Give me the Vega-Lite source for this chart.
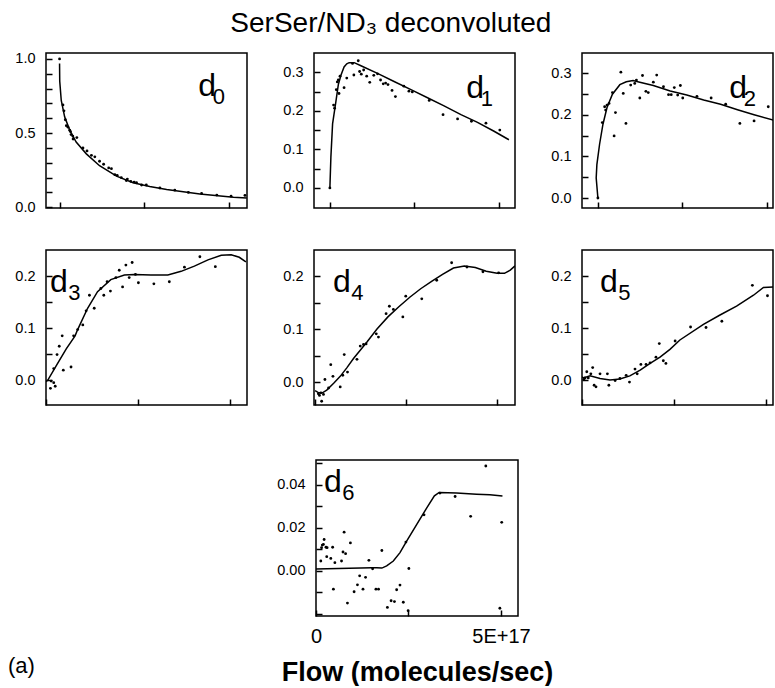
{
  "$schema": "https://vega.github.io/schema/vega-lite/v6.json",
  "background": "white",
  "padding": {"left": 8, "top": 10, "right": 0, "bottom": 0},
  "title": {"text": "SerSer/ND₃ deconvoluted", "fontSize": 28, "font": "Liberation Sans", "fontWeight": "normal", "anchor": "middle", "offset": 12, "color": "black"},
  "datasets": {
    "pts": [
      {"panel":"d0","flow":0,"value":1.0},{"panel":"d0","flow":0.1e17,"value":0.69},{"panel":"d0","flow":0.13e17,"value":0.65},{"panel":"d0","flow":0.17e17,"value":0.59},{"panel":"d0","flow":0.2e17,"value":0.55},{"panel":"d0","flow":0.25e17,"value":0.54},{"panel":"d0","flow":0.3e17,"value":0.52},{"panel":"d0","flow":0.32e17,"value":0.51},{"panel":"d0","flow":0.34e17,"value":0.49},{"panel":"d0","flow":0.39e17,"value":0.48},{"panel":"d0","flow":0.4e17,"value":0.46},{"panel":"d0","flow":0.51e17,"value":0.47},{"panel":"d0","flow":0.69e17,"value":0.40},{"panel":"d0","flow":0.81e17,"value":0.38},{"panel":"d0","flow":0.94e17,"value":0.35},{"panel":"d0","flow":1.04e17,"value":0.34},{"panel":"d0","flow":1.18e17,"value":0.31},{"panel":"d0","flow":1.3e17,"value":0.29},{"panel":"d0","flow":1.45e17,"value":0.265},{"panel":"d0","flow":1.53e17,"value":0.26},{"panel":"d0","flow":1.63e17,"value":0.22},{"panel":"d0","flow":1.7e17,"value":0.215},{"panel":"d0","flow":1.82e17,"value":0.20},{"panel":"d0","flow":1.97e17,"value":0.18},{"panel":"d0","flow":2.0e17,"value":0.19},{"panel":"d0","flow":2.1e17,"value":0.175},{"panel":"d0","flow":2.2e17,"value":0.17},{"panel":"d0","flow":2.27e17,"value":0.165},{"panel":"d0","flow":2.42e17,"value":0.15},{"panel":"d0","flow":2.56e17,"value":0.15},{"panel":"d0","flow":2.96e17,"value":0.13},{"panel":"d0","flow":3.4e17,"value":0.115},{"panel":"d0","flow":3.8e17,"value":0.10},{"panel":"d0","flow":4.19e17,"value":0.093},{"panel":"d0","flow":4.64e17,"value":0.082},{"panel":"d0","flow":5.06e17,"value":0.075},{"panel":"d0","flow":5.47e17,"value":0.08},
      {"panel":"d1","flow":0,"value":0.0},{"panel":"d1","flow":0.11e17,"value":0.215},{"panel":"d1","flow":0.14e17,"value":0.207},{"panel":"d1","flow":0.19e17,"value":0.255},{"panel":"d1","flow":0.22e17,"value":0.275},{"panel":"d1","flow":0.25e17,"value":0.28},{"panel":"d1","flow":0.27e17,"value":0.245},{"panel":"d1","flow":0.3e17,"value":0.29},{"panel":"d1","flow":0.42e17,"value":0.26},{"panel":"d1","flow":0.5e17,"value":0.285},{"panel":"d1","flow":0.67e17,"value":0.323},{"panel":"d1","flow":0.71e17,"value":0.293},{"panel":"d1","flow":0.84e17,"value":0.33},{"panel":"d1","flow":0.88e17,"value":0.302},{"panel":"d1","flow":0.93e17,"value":0.295},{"panel":"d1","flow":1.0e17,"value":0.306},{"panel":"d1","flow":1.09e17,"value":0.29},{"panel":"d1","flow":1.18e17,"value":0.274},{"panel":"d1","flow":1.3e17,"value":0.292},{"panel":"d1","flow":1.41e17,"value":0.296},{"panel":"d1","flow":1.5e17,"value":0.28},{"panel":"d1","flow":1.58e17,"value":0.27},{"panel":"d1","flow":1.65e17,"value":0.272},{"panel":"d1","flow":1.72e17,"value":0.268},{"panel":"d1","flow":1.84e17,"value":0.253},{"panel":"d1","flow":1.94e17,"value":0.237},{"panel":"d1","flow":2.19e17,"value":0.264},{"panel":"d1","flow":2.34e17,"value":0.251},{"panel":"d1","flow":2.44e17,"value":0.249},{"panel":"d1","flow":2.94e17,"value":0.227},{"panel":"d1","flow":3.35e17,"value":0.19},{"panel":"d1","flow":3.78e17,"value":0.179},{"panel":"d1","flow":4.19e17,"value":0.173},{"panel":"d1","flow":4.62e17,"value":0.168},{"panel":"d1","flow":5.03e17,"value":0.15},
      {"panel":"d2","flow":0,"value":0.0},{"panel":"d2","flow":0.13e17,"value":0.181},{"panel":"d2","flow":0.2e17,"value":0.219},{"panel":"d2","flow":0.23e17,"value":0.211},{"panel":"d2","flow":0.27e17,"value":0.223},{"panel":"d2","flow":0.33e17,"value":0.227},{"panel":"d2","flow":0.43e17,"value":0.253},{"panel":"d2","flow":0.48e17,"value":0.149},{"panel":"d2","flow":0.52e17,"value":0.205},{"panel":"d2","flow":0.68e17,"value":0.302},{"panel":"d2","flow":0.75e17,"value":0.251},{"panel":"d2","flow":0.83e17,"value":0.179},{"panel":"d2","flow":0.97e17,"value":0.271},{"panel":"d2","flow":1.09e17,"value":0.275},{"panel":"d2","flow":1.14e17,"value":0.283},{"panel":"d2","flow":1.24e17,"value":0.24},{"panel":"d2","flow":1.32e17,"value":0.294},{"panel":"d2","flow":1.42e17,"value":0.256},{"panel":"d2","flow":1.49e17,"value":0.253},{"panel":"d2","flow":1.64e17,"value":0.278},{"panel":"d2","flow":1.74e17,"value":0.295},{"panel":"d2","flow":1.94e17,"value":0.267},{"panel":"d2","flow":2.09e17,"value":0.248},{"panel":"d2","flow":2.17e17,"value":0.248},{"panel":"d2","flow":2.26e17,"value":0.265},{"panel":"d2","flow":2.36e17,"value":0.247},{"panel":"d2","flow":2.44e17,"value":0.27},{"panel":"d2","flow":2.51e17,"value":0.24},{"panel":"d2","flow":2.93e17,"value":0.244},{"panel":"d2","flow":3.35e17,"value":0.24},{"panel":"d2","flow":3.78e17,"value":0.225},{"panel":"d2","flow":4.2e17,"value":0.179},{"panel":"d2","flow":4.62e17,"value":0.185},{"panel":"d2","flow":5.04e17,"value":0.219},
      {"panel":"d3","flow":0.12e17,"value":-0.016},{"panel":"d3","flow":0.14e17,"value":-0.002},{"panel":"d3","flow":0.21e17,"value":-0.005},{"panel":"d3","flow":0.25e17,"value":-0.012},{"panel":"d3","flow":0.21e17,"value":0.022},{"panel":"d3","flow":0.3e17,"value":0.049},{"panel":"d3","flow":0.36e17,"value":0.065},{"panel":"d3","flow":0.44e17,"value":0.085},{"panel":"d3","flow":0.47e17,"value":0.019},{"panel":"d3","flow":0.68e17,"value":0.025},{"panel":"d3","flow":0.75e17,"value":0.085},{"panel":"d3","flow":0.86e17,"value":0.097},{"panel":"d3","flow":1.0e17,"value":0.106},{"panel":"d3","flow":1.09e17,"value":0.133},{"panel":"d3","flow":1.18e17,"value":0.163},{"panel":"d3","flow":1.31e17,"value":0.138},{"panel":"d3","flow":1.49e17,"value":0.176},{"panel":"d3","flow":1.57e17,"value":0.163},{"panel":"d3","flow":1.66e17,"value":0.189},{"panel":"d3","flow":1.75e17,"value":0.171},{"panel":"d3","flow":1.9e17,"value":0.197},{"panel":"d3","flow":1.99e17,"value":0.211},{"panel":"d3","flow":2.08e17,"value":0.179},{"panel":"d3","flow":2.17e17,"value":0.221},{"panel":"d3","flow":2.26e17,"value":0.197},{"panel":"d3","flow":2.34e17,"value":0.226},{"panel":"d3","flow":2.43e17,"value":0.203},{"panel":"d3","flow":2.51e17,"value":0.187},{"panel":"d3","flow":2.93e17,"value":0.185},{"panel":"d3","flow":3.35e17,"value":0.189},{"panel":"d3","flow":3.76e17,"value":0.217},{"panel":"d3","flow":4.18e17,"value":0.237},{"panel":"d3","flow":4.6e17,"value":0.218},
      {"panel":"d4","flow":0.09e17,"value":-0.022},{"panel":"d4","flow":0.12e17,"value":-0.025},{"panel":"d4","flow":0.16e17,"value":-0.02},{"panel":"d4","flow":0.18e17,"value":-0.036},{"panel":"d4","flow":0.23e17,"value":-0.023},{"panel":"d4","flow":0.27e17,"value":0.005},{"panel":"d4","flow":0.37e17,"value":-0.011},{"panel":"d4","flow":0.43e17,"value":0.033},{"panel":"d4","flow":0.49e17,"value":0.011},{"panel":"d4","flow":0.69e17,"value":-0.009},{"panel":"d4","flow":0.76e17,"value":0.013},{"panel":"d4","flow":0.8e17,"value":0.052},{"panel":"d4","flow":0.89e17,"value":0.019},{"panel":"d4","flow":1.15e17,"value":0.043},{"panel":"d4","flow":1.24e17,"value":0.068},{"panel":"d4","flow":1.33e17,"value":0.071},{"panel":"d4","flow":1.4e17,"value":0.072},{"panel":"d4","flow":1.68e17,"value":0.091},{"panel":"d4","flow":1.74e17,"value":0.085},{"panel":"d4","flow":1.95e17,"value":0.129},{"panel":"d4","flow":2.04e17,"value":0.143},{"panel":"d4","flow":2.15e17,"value":0.137},{"panel":"d4","flow":2.41e17,"value":0.123},{"panel":"d4","flow":2.49e17,"value":0.162},{"panel":"d4","flow":2.93e17,"value":0.157},{"panel":"d4","flow":3.34e17,"value":0.192},{"panel":"d4","flow":3.75e17,"value":0.225},{"panel":"d4","flow":4.17e17,"value":0.217},{"panel":"d4","flow":4.61e17,"value":0.208},{"panel":"d4","flow":5.04e17,"value":0.206},
      {"panel":"d5","flow":0.05e17,"value":0.001},{"panel":"d5","flow":0.08e17,"value":0.004},{"panel":"d5","flow":0.13e17,"value":0.016},{"panel":"d5","flow":0.17e17,"value":0.004},{"panel":"d5","flow":0.24e17,"value":0.012},{"panel":"d5","flow":0.29e17,"value":0.024},{"panel":"d5","flow":0.33e17,"value":-0.01},{"panel":"d5","flow":0.38e17,"value":-0.013},{"panel":"d5","flow":0.49e17,"value":0.012},{"panel":"d5","flow":0.69e17,"value":0.012},{"panel":"d5","flow":0.73e17,"value":-0.01},{"panel":"d5","flow":0.9e17,"value":-0.001},{"panel":"d5","flow":1.03e17,"value":0.003},{"panel":"d5","flow":1.2e17,"value":0.009},{"panel":"d5","flow":1.29e17,"value":-0.004},{"panel":"d5","flow":1.44e17,"value":0.021},{"panel":"d5","flow":1.5e17,"value":0.012},{"panel":"d5","flow":1.6e17,"value":0.03},{"panel":"d5","flow":1.74e17,"value":0.03},{"panel":"d5","flow":1.85e17,"value":0.033},{"panel":"d5","flow":2.01e17,"value":0.044},{"panel":"d5","flow":2.1e17,"value":0.07},{"panel":"d5","flow":2.21e17,"value":0.037},{"panel":"d5","flow":2.28e17,"value":0.032},{"panel":"d5","flow":2.53e17,"value":0.075},{"panel":"d5","flow":2.95e17,"value":0.102},{"panel":"d5","flow":3.37e17,"value":0.101},{"panel":"d5","flow":3.8e17,"value":0.113},{"panel":"d5","flow":4.63e17,"value":0.182},{"panel":"d5","flow":5.04e17,"value":0.162},
      {"panel":"d6","flow":0.13e17,"value":0.0046},{"panel":"d6","flow":0.15e17,"value":0.0108},{"panel":"d6","flow":0.17e17,"value":0.012},{"panel":"d6","flow":0.2e17,"value":0.0123},{"panel":"d6","flow":0.22e17,"value":0.0146},{"panel":"d6","flow":0.27e17,"value":0.011},{"panel":"d6","flow":0.29e17,"value":0.0066},{"panel":"d6","flow":0.3e17,"value":0.0108},{"panel":"d6","flow":0.4e17,"value":0.0058},{"panel":"d6","flow":0.45e17,"value":0.011},{"panel":"d6","flow":0.47e17,"value":-0.0085},{"panel":"d6","flow":0.51e17,"value":0.0038},{"panel":"d6","flow":0.69e17,"value":0.0046},{"panel":"d6","flow":0.73e17,"value":0.0088},{"panel":"d6","flow":0.76e17,"value":0.018},{"panel":"d6","flow":0.8e17,"value":0.008},{"panel":"d6","flow":0.85e17,"value":-0.015},{"panel":"d6","flow":0.93e17,"value":0.013},{"panel":"d6","flow":1.03e17,"value":-0.0097},{"panel":"d6","flow":1.12e17,"value":-0.0065},{"panel":"d6","flow":1.18e17,"value":-0.0023},{"panel":"d6","flow":1.27e17,"value":-0.0085},{"panel":"d6","flow":1.34e17,"value":-0.003},{"panel":"d6","flow":1.43e17,"value":0.0049},{"panel":"d6","flow":1.53e17,"value":0.001},{"panel":"d6","flow":1.62e17,"value":-0.0085},{"panel":"d6","flow":1.69e17,"value":-0.0085},{"panel":"d6","flow":1.78e17,"value":0.0095},{"panel":"d6","flow":1.93e17,"value":-0.017},{"panel":"d6","flow":2.03e17,"value":-0.0139},{"panel":"d6","flow":2.12e17,"value":-0.0143},{"panel":"d6","flow":2.18e17,"value":-0.0088},{"panel":"d6","flow":2.27e17,"value":-0.0066},{"panel":"d6","flow":2.36e17,"value":-0.0146},{"panel":"d6","flow":2.43e17,"value":0.0134},{"panel":"d6","flow":2.49e17,"value":-0.0185},{"panel":"d6","flow":2.51e17,"value":0.0011},{"panel":"d6","flow":2.92e17,"value":0.0261},{"panel":"d6","flow":3.35e17,"value":0.0362},{"panel":"d6","flow":3.76e17,"value":0.0346},{"panel":"d6","flow":4.18e17,"value":0.0254},{"panel":"d6","flow":4.59e17,"value":0.0488},{"panel":"d6","flow":5.02e17,"value":0.0226},{"panel":"d6","flow":4.97e17,"value":-0.0174}
    ],
    "fit": [
      {"panel":"d0","flow":0,"value":0.97},{"panel":"d0","flow":0.005e17,"value":0.85},{"panel":"d0","flow":0.05e17,"value":0.72},{"panel":"d0","flow":0.15e17,"value":0.61},{"panel":"d0","flow":0.3e17,"value":0.52},{"panel":"d0","flow":0.49e17,"value":0.44},{"panel":"d0","flow":0.79e17,"value":0.36},{"panel":"d0","flow":1.18e17,"value":0.28},{"panel":"d0","flow":1.68e17,"value":0.21},{"panel":"d0","flow":2.17e17,"value":0.165},{"panel":"d0","flow":2.66e17,"value":0.14},{"panel":"d0","flow":3.16e17,"value":0.12},{"panel":"d0","flow":4.14e17,"value":0.09},{"panel":"d0","flow":5.13e17,"value":0.068},{"panel":"d0","flow":5.52e17,"value":0.063},
      {"panel":"d1","flow":0,"value":0.0},{"panel":"d1","flow":0.03e17,"value":0.08},{"panel":"d1","flow":0.08e17,"value":0.166},{"panel":"d1","flow":0.18e17,"value":0.225},{"panel":"d1","flow":0.25e17,"value":0.268},{"panel":"d1","flow":0.33e17,"value":0.293},{"panel":"d1","flow":0.42e17,"value":0.314},{"panel":"d1","flow":0.5e17,"value":0.322},{"panel":"d1","flow":0.57e17,"value":0.325},{"panel":"d1","flow":0.72e17,"value":0.325},{"panel":"d1","flow":0.92e17,"value":0.317},{"panel":"d1","flow":1.41e17,"value":0.297},{"panel":"d1","flow":1.9e17,"value":0.276},{"panel":"d1","flow":2.4e17,"value":0.255},{"panel":"d1","flow":2.89e17,"value":0.234},{"panel":"d1","flow":3.38e17,"value":0.213},{"panel":"d1","flow":3.88e17,"value":0.19},{"panel":"d1","flow":4.37e17,"value":0.17},{"panel":"d1","flow":4.86e17,"value":0.147},{"panel":"d1","flow":5.3e17,"value":0.125},
      {"panel":"d2","flow":0,"value":0.0},{"panel":"d2","flow":-0.05e17,"value":0.048},{"panel":"d2","flow":-0.03e17,"value":0.08},{"panel":"d2","flow":0.05e17,"value":0.129},{"panel":"d2","flow":0.15e17,"value":0.177},{"panel":"d2","flow":0.27e17,"value":0.217},{"panel":"d2","flow":0.43e17,"value":0.249},{"panel":"d2","flow":0.65e17,"value":0.272},{"panel":"d2","flow":0.84e17,"value":0.279},{"panel":"d2","flow":1.04e17,"value":0.282},{"panel":"d2","flow":1.24e17,"value":0.278},{"panel":"d2","flow":1.64e17,"value":0.27},{"panel":"d2","flow":2.14e17,"value":0.257},{"panel":"d2","flow":2.63e17,"value":0.247},{"panel":"d2","flow":3.13e17,"value":0.235},{"panel":"d2","flow":3.63e17,"value":0.225},{"panel":"d2","flow":4.13e17,"value":0.212},{"panel":"d2","flow":4.62e17,"value":0.2},{"panel":"d2","flow":5.27e17,"value":0.185},
      {"panel":"d3","flow":0,"value":-0.003},{"panel":"d3","flow":0.05e17,"value":0.0},{"panel":"d3","flow":0.3e17,"value":0.03},{"panel":"d3","flow":0.55e17,"value":0.06},{"panel":"d3","flow":0.79e17,"value":0.085},{"panel":"d3","flow":0.86e17,"value":0.097},{"panel":"d3","flow":1.13e17,"value":0.138},{"panel":"d3","flow":1.4e17,"value":0.17},{"panel":"d3","flow":1.76e17,"value":0.193},{"panel":"d3","flow":2.13e17,"value":0.202},{"panel":"d3","flow":2.4e17,"value":0.203},{"panel":"d3","flow":2.85e17,"value":0.202},{"panel":"d3","flow":3.31e17,"value":0.202},{"panel":"d3","flow":3.67e17,"value":0.209},{"panel":"d3","flow":4.03e17,"value":0.219},{"panel":"d3","flow":4.4e17,"value":0.231},{"panel":"d3","flow":4.76e17,"value":0.24},{"panel":"d3","flow":5.03e17,"value":0.241},{"panel":"d3","flow":5.25e17,"value":0.236},{"panel":"d3","flow":5.43e17,"value":0.227},
      {"panel":"d4","flow":0,"value":-0.016},{"panel":"d4","flow":0.1e17,"value":-0.02},{"panel":"d4","flow":0.2e17,"value":-0.02},{"panel":"d4","flow":0.32e17,"value":-0.015},{"panel":"d4","flow":0.51e17,"value":-0.002},{"panel":"d4","flow":0.69e17,"value":0.011},{"panel":"d4","flow":0.87e17,"value":0.027},{"panel":"d4","flow":1.06e17,"value":0.045},{"panel":"d4","flow":1.24e17,"value":0.06},{"panel":"d4","flow":1.43e17,"value":0.076},{"panel":"d4","flow":1.7e17,"value":0.1},{"panel":"d4","flow":2.0e17,"value":0.123},{"panel":"d4","flow":2.3e17,"value":0.142},{"panel":"d4","flow":2.6e17,"value":0.16},{"panel":"d4","flow":2.9e17,"value":0.176},{"panel":"d4","flow":3.2e17,"value":0.19},{"panel":"d4","flow":3.5e17,"value":0.203},{"panel":"d4","flow":3.8e17,"value":0.215},{"panel":"d4","flow":4.1e17,"value":0.219},{"panel":"d4","flow":4.4e17,"value":0.216},{"panel":"d4","flow":4.7e17,"value":0.209},{"panel":"d4","flow":5.0e17,"value":0.205},{"panel":"d4","flow":5.2e17,"value":0.205},{"panel":"d4","flow":5.36e17,"value":0.211},{"panel":"d4","flow":5.49e17,"value":0.219},
      {"panel":"d5","flow":0,"value":0.006},{"panel":"d5","flow":0.04e17,"value":0.004},{"panel":"d5","flow":0.22e17,"value":0.008},{"panel":"d5","flow":0.49e17,"value":0.003},{"panel":"d5","flow":0.76e17,"value":0.0},{"panel":"d5","flow":1.03e17,"value":0.002},{"panel":"d5","flow":1.3e17,"value":0.008},{"panel":"d5","flow":1.58e17,"value":0.019},{"panel":"d5","flow":1.85e17,"value":0.032},{"panel":"d5","flow":2.12e17,"value":0.044},{"panel":"d5","flow":2.39e17,"value":0.059},{"panel":"d5","flow":2.66e17,"value":0.077},{"panel":"d5","flow":3.3e17,"value":0.107},{"panel":"d5","flow":3.75e17,"value":0.125},{"panel":"d5","flow":4.2e17,"value":0.142},{"panel":"d5","flow":4.66e17,"value":0.163},{"panel":"d5","flow":4.93e17,"value":0.178},{"panel":"d5","flow":5.2e17,"value":0.179},{"panel":"d5","flow":5.45e17,"value":0.175},
      {"panel":"d6","flow":0,"value":0.0009},{"panel":"d6","flow":1.51e17,"value":0.0015},{"panel":"d6","flow":1.64e17,"value":0.0015},{"panel":"d6","flow":1.78e17,"value":0.0013},{"panel":"d6","flow":1.91e17,"value":0.0023},{"panel":"d6","flow":2.09e17,"value":0.0046},{"panel":"d6","flow":2.27e17,"value":0.0085},{"panel":"d6","flow":2.45e17,"value":0.0138},{"panel":"d6","flow":2.72e17,"value":0.0215},{"panel":"d6","flow":2.99e17,"value":0.0292},{"panel":"d6","flow":3.2e17,"value":0.0349},{"panel":"d6","flow":3.33e17,"value":0.0365},{"panel":"d6","flow":3.8e17,"value":0.0362},{"panel":"d6","flow":4.34e17,"value":0.0357},{"panel":"d6","flow":4.7e17,"value":0.0354},{"panel":"d6","flow":5.04e17,"value":0.0349}
    ]
  },
  "vconcat": [
    {
      "columns": 3,
      "bounds": "flush",
      "spacing": {"row": 42, "column": 67},
      "concat": [
        {
          "width": 201, "height": 155,
          "title": {"text": "d\u00a0\u200b", "subtitle": "0", "anchor": "end", "frame": "group", "offset": -58, "dx": -22, "fontSize": 32, "subtitleFontSize": 22, "subtitlePadding": -15.6},
          "encoding": {
            "x": {"field": "flow", "type": "quantitative", "scale": {"domain": [-0.4e17, 5.53e17], "nice": false, "zero": false}, "axis": {"values": [0, 2.5e17, 5e17], "labels": false, "title": null}},
            "y": {"field": "value", "type": "quantitative", "scale": {"domain": [-0.005, 1.04], "nice": false, "zero": false}, "axis": {"values": [0,0.1,0.2,0.3,0.4,0.5,0.6,0.7,0.8,0.9,1.0], "labelExpr": "abs(datum.value*2 - round(datum.value*2)) < 0.001 ? format(datum.value, '.1f') : ''", "title": null}}
          },
          "layer": [
            {"data": {"name": "pts"}, "transform": [{"filter": "datum.panel == 'd0'"}], "mark": {"type": "circle", "size": 8, "color": "black", "opacity": 1, "clip": true}},
            {"data": {"name": "fit"}, "transform": [{"filter": "datum.panel == 'd0'"}], "mark": {"type": "line", "color": "black", "strokeWidth": 1.5, "clip": true}, "encoding": {"order": {"value": null}}}
          ]
        },
        {
          "width": 201, "height": 155,
          "title": {"text": "d\u00a0\u200b", "subtitle": "1", "anchor": "end", "frame": "group", "offset": -58, "dx": -22, "fontSize": 32, "subtitleFontSize": 22, "subtitlePadding": -15.6},
          "encoding": {
            "x": {"field": "flow", "type": "quantitative", "scale": {"domain": [-0.47e17, 5.48e17], "nice": false, "zero": false}, "axis": {"values": [0, 2.5e17, 5e17], "labels": false, "title": null}},
            "y": {"field": "value", "type": "quantitative", "scale": {"domain": [-0.052, 0.35], "nice": false, "zero": false}, "axis": {"values": [0,0.05,0.1,0.15,0.2,0.25,0.3], "labelExpr": "abs(datum.value*10 - round(datum.value*10)) < 0.001 ? format(datum.value, '.1f') : ''", "title": null}}
          },
          "layer": [
            {"data": {"name": "pts"}, "transform": [{"filter": "datum.panel == 'd1'"}], "mark": {"type": "circle", "size": 8, "color": "black", "opacity": 1, "clip": true}},
            {"data": {"name": "fit"}, "transform": [{"filter": "datum.panel == 'd1'"}], "mark": {"type": "line", "color": "black", "strokeWidth": 1.5, "clip": true}, "encoding": {"order": {"value": null}}}
          ]
        },
        {
          "width": 191, "height": 155,
          "title": {"text": "d\u00a0\u200b", "subtitle": "2", "anchor": "end", "frame": "group", "offset": -58, "dx": -17, "fontSize": 32, "subtitleFontSize": 22, "subtitlePadding": -15.6},
          "encoding": {
            "x": {"field": "flow", "type": "quantitative", "scale": {"domain": [-0.47e17, 5.18e17], "nice": false, "zero": false}, "axis": {"values": [0, 2.5e17, 5e17], "labels": false, "title": null}},
            "y": {"field": "value", "type": "quantitative", "scale": {"domain": [-0.024, 0.348], "nice": false, "zero": false}, "axis": {"values": [0,0.05,0.1,0.15,0.2,0.25,0.3], "labelExpr": "abs(datum.value*10 - round(datum.value*10)) < 0.001 ? format(datum.value, '.1f') : ''", "title": null}}
          },
          "layer": [
            {"data": {"name": "pts"}, "transform": [{"filter": "datum.panel == 'd2'"}], "mark": {"type": "circle", "size": 8, "color": "black", "opacity": 1, "clip": true}},
            {"data": {"name": "fit"}, "transform": [{"filter": "datum.panel == 'd2'"}], "mark": {"type": "line", "color": "black", "strokeWidth": 1.5, "clip": true}, "encoding": {"order": {"value": null}}}
          ]
        },
        {
          "width": 201, "height": 155,
          "title": {"text": "d", "subtitle": "\u200b\u00a0\u00a0\u00a03", "anchor": "start", "frame": "group", "offset": -55, "dx": 4, "fontSize": 32, "subtitleFontSize": 22, "subtitlePadding": -15.6},
          "encoding": {
            "x": {"field": "flow", "type": "quantitative", "scale": {"domain": [0, 5.46e17], "nice": false, "zero": false}, "axis": {"values": [0, 2.5e17, 5e17], "labels": false, "title": null}},
            "y": {"field": "value", "type": "quantitative", "scale": {"domain": [-0.048, 0.25], "nice": false, "zero": false}, "axis": {"values": [0,0.05,0.1,0.15,0.2], "labelExpr": "abs(datum.value*10 - round(datum.value*10)) < 0.001 ? format(datum.value, '.1f') : ''", "title": null}}
          },
          "layer": [
            {"data": {"name": "pts"}, "transform": [{"filter": "datum.panel == 'd3'"}], "mark": {"type": "circle", "size": 8, "color": "black", "opacity": 1, "clip": true}},
            {"data": {"name": "fit"}, "transform": [{"filter": "datum.panel == 'd3'"}], "mark": {"type": "line", "color": "black", "strokeWidth": 1.5, "clip": true}, "encoding": {"order": {"value": null}}}
          ]
        },
        {
          "width": 201, "height": 155,
          "title": {"text": "d", "subtitle": "\u200b\u00a0\u00a0\u00a04", "anchor": "start", "frame": "group", "offset": -55, "dx": 19, "fontSize": 32, "subtitleFontSize": 22, "subtitlePadding": -15.6},
          "encoding": {
            "x": {"field": "flow", "type": "quantitative", "scale": {"domain": [-0.03e17, 5.49e17], "nice": false, "zero": false}, "axis": {"values": [0, 2.5e17, 5e17], "labels": false, "title": null}},
            "y": {"field": "value", "type": "quantitative", "scale": {"domain": [-0.043, 0.249], "nice": false, "zero": false}, "axis": {"values": [0,0.05,0.1,0.15,0.2], "labelExpr": "abs(datum.value*10 - round(datum.value*10)) < 0.001 ? format(datum.value, '.1f') : ''", "title": null}}
          },
          "layer": [
            {"data": {"name": "pts"}, "transform": [{"filter": "datum.panel == 'd4'"}], "mark": {"type": "circle", "size": 8, "color": "black", "opacity": 1, "clip": true}},
            {"data": {"name": "fit"}, "transform": [{"filter": "datum.panel == 'd4'"}], "mark": {"type": "line", "color": "black", "strokeWidth": 1.5, "clip": true}, "encoding": {"order": {"value": null}}}
          ]
        },
        {
          "width": 191, "height": 155,
          "title": {"text": "d", "subtitle": "\u200b\u00a0\u00a0\u00a05", "anchor": "start", "frame": "group", "offset": -55, "dx": 18, "fontSize": 32, "subtitleFontSize": 22, "subtitlePadding": -15.6},
          "encoding": {
            "x": {"field": "flow", "type": "quantitative", "scale": {"domain": [0, 5.19e17], "nice": false, "zero": false}, "axis": {"values": [0, 2.5e17, 5e17], "labels": false, "title": null}},
            "y": {"field": "value", "type": "quantitative", "scale": {"domain": [-0.048, 0.25], "nice": false, "zero": false}, "axis": {"values": [0,0.05,0.1,0.15,0.2], "labelExpr": "abs(datum.value*10 - round(datum.value*10)) < 0.001 ? format(datum.value, '.1f') : ''", "title": null}}
          },
          "layer": [
            {"data": {"name": "pts"}, "transform": [{"filter": "datum.panel == 'd5'"}], "mark": {"type": "circle", "size": 8, "color": "black", "opacity": 1, "clip": true}},
            {"data": {"name": "fit"}, "transform": [{"filter": "datum.panel == 'd5'"}], "mark": {"type": "line", "color": "black", "strokeWidth": 1.5, "clip": true}, "encoding": {"order": {"value": null}}}
          ]
        }
      ]
    },
    {
      "bounds": "flush",
      "spacing": 60,
      "hconcat": [
        {
          "width": 210, "height": 156,
          "data": {"values": []},
          "mark": "point",
          "view": {"stroke": null},
          "title": {"text": "(a)", "orient": "bottom", "anchor": "start", "frame": "group", "offset": 40, "dx": -38, "fontSize": 22, "font": "Liberation Sans Narrow, Liberation Sans"}
        },
        {
          "width": 202, "height": 156,
          "title": {"text": "d", "subtitle": "\u200b\u00a0\u00a0\u00a06", "anchor": "start", "frame": "group", "offset": -50, "dx": 8, "fontSize": 32, "subtitleFontSize": 22, "subtitlePadding": -15.6},
          "encoding": {
            "x": {"field": "flow", "type": "quantitative", "scale": {"domain": [0, 5.46e17], "nice": false, "zero": false}, "axis": {"values": [0, 2.5e17, 5e17], "labelExpr": "datum.value == 0 ? '0' : (datum.value > 4.9e17 ? upper(format(datum.value, '.0e')) : '')", "labelFontSize": 20, "labelFont": "Liberation Sans Narrow, Liberation Sans", "labelPadding": 16, "title": "Flow (molecules/sec)", "titleFont": "Liberation Sans Narrow, Liberation Sans", "titleFontSize": 27, "titleFontWeight": "bold", "titlePadding": 13, "titleColor": "black"}},
            "y": {"field": "value", "type": "quantitative", "scale": {"domain": [-0.021, 0.0516], "nice": false, "zero": false}, "axis": {"values": [-0.02,-0.01,0,0.01,0.02,0.03,0.04,0.05], "labelExpr": "datum.value > -0.0001 && abs(datum.value*50 - round(datum.value*50)) < 0.001 ? format(abs(datum.value), '.2f') : ''", "title": null}}
          },
          "layer": [
            {"data": {"name": "pts"}, "transform": [{"filter": "datum.panel == 'd6'"}], "mark": {"type": "circle", "size": 8, "color": "black", "opacity": 1, "clip": true}},
            {"data": {"name": "fit"}, "transform": [{"filter": "datum.panel == 'd6'"}], "mark": {"type": "line", "color": "black", "strokeWidth": 1.5, "clip": true}, "encoding": {"order": {"value": null}}}
          ]
        }
      ]
    }
  ],
  "spacing": 47,
  "config": {
    "font": "Liberation Sans",
    "view": {"stroke": "black", "strokeWidth": 1.5},
    "axis": {"domain": false, "grid": false, "ticks": true, "tickColor": "black", "tickWidth": 1.5, "tickSize": -6, "labelFontSize": 14.5, "labelColor": "black", "labelFont": "Liberation Sans", "labelOverlap": false, "labelFlush": false, "labelPadding": 17},
    "title": {"color": "black", "fontWeight": "normal", "font": "Liberation Sans", "subtitleColor": "black", "subtitleFont": "Liberation Sans"}
  }
}
